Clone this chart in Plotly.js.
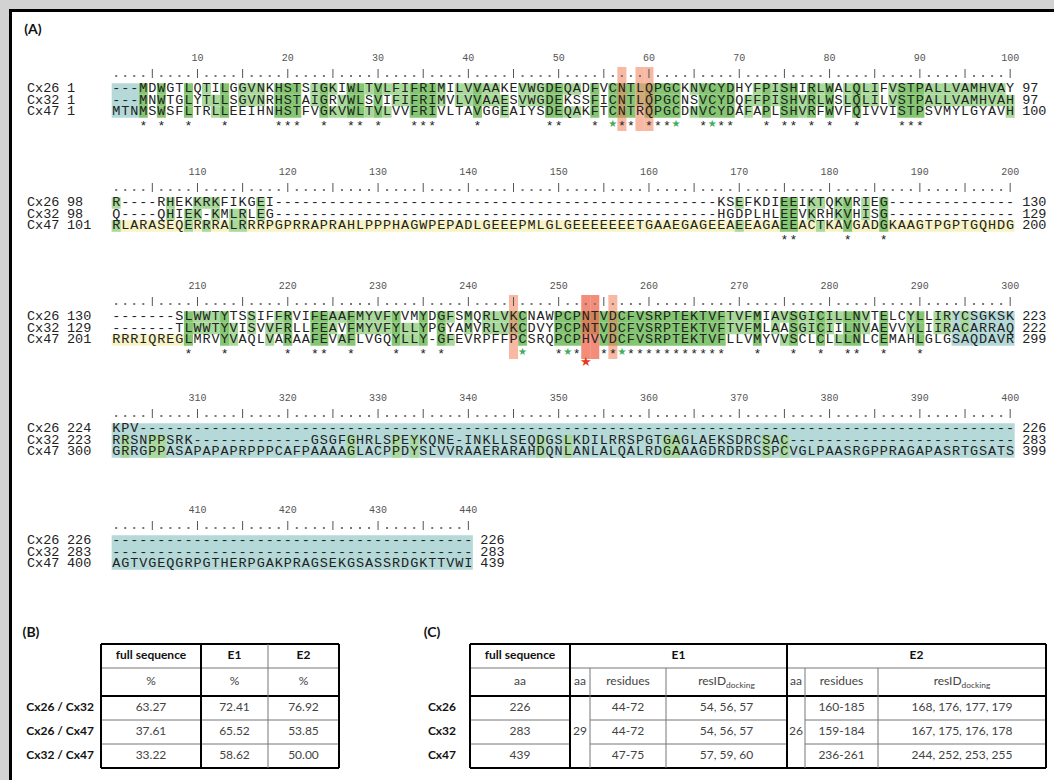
<!DOCTYPE html>
<html><head><meta charset="utf-8">
<script src="https://cdn.plot.ly/plotly-3.0.1.min.js"></script>
<style>html,body{margin:0;padding:0;background:#fff}#chart{width:1054px;height:780px}</style>
</head><body><div id="chart"></div>
<script>
// ================= DATA =================
const seqNames = ["Cx26", "Cx32", "Cx47"];
const blockFirstCol = [1, 101, 201, 301, 401];
const blockWidth = [100, 100, 100, 100, 40];

const cx26Blocks = [
  "---MDWGTLQTILGGVNKHSTSIGKIWLTVLFIFRIMILVVAAKEVWGDEQADFVCNTLQPGCKNVCYDHYFPISHIRLWALQLIFVSTPALLVAMHVAY",
  "R----RHEKKRKFIKGEI" + "-".repeat(49) + "KSEFKDIEEIKTQKVRIEG" + "-".repeat(14),
  "-------SLWWTYTSSIFFRVIFEAAFMYVFYVMYDGFSMQRLVKCNAWPCPNTVDCFVSRPTEKTVFTVFMIAVSGICILLNVTELCYLLIRYCSGKSK",
  "KPV" + "-".repeat(97),
  "-".repeat(40)
];
const cx32Blocks = [
  "---MNWTGLYTLLSGVNRHSTAIGRVWLSVIFIFRIMVLVVAAESVWGDEKSSFICNTLQPGCNSVCYDQFFPISHVRLWSLQLILVSTPALLVAMHVAH",
  "Q----QHIEK-KMLRLEG" + "-".repeat(49) + "HGDPLHLEEVKRHKVHISG" + "-".repeat(14),
  "-------TLWWTYVISVVFRLLFEAVFMYVFYLLYPGYAMVRLVKCDVYPCPNTVDCFVSRPTEKTVFTVFMLAASGICIILNVAEVVYLIIRACARRAQ",
  "RRSNPPSRK" + "-".repeat(13) + "GSGFGHRLSPEYKQNE" + "-" + "INKLLSEQDGSLKDILRRSPGTGAGLAEKSDRCSAC" + "-".repeat(25),
  "-".repeat(40)
];
const cx47Blocks = [
  "MTNMSWSFLTRLLEEIHNHSTFVGKVWLTVLVVFRIVLTAVGGEAIYSDEQAKFTCNTRQPGCDNVCYDAFAPLSHVRFWVFQIVVISTPSVMYLGYAVH",
  "RLARASEQERRRALRRRPGPRRAPRAHLPPPHAGWPEPADLGEEEPMLGLGEEEEEEETGAAEGAGEEAEEAGAEEACTKAVGADGKAAGTPGPTGQHDG",
  "RRRIQREGLMRVYVAQLVARAAFEVAFLVGQYLLY-GFEVRPFFPCSRQPCPHVVDCFVSRPTEKTVFLLVMYVVSCLCLLLNLCEMAHLGLGSAQDAVR",
  "GRRGPPASAPAPAPRPPPCAFPAAAAGLACPPDYSLVVRAAERARAHDQNLANLALQALRDGAAAGDRDRDSSPCVGLPAASRGPPRAGAPASRTGSATS",
  "AGTVGEQGRPGTHERPGAKPRAGSEKGSASSRDGKTTVWI"
];
const cx26Start = [1, 98, 130, 224, 226], cx26End = [97, 130, 223, 226, 226];
const cx32Start = [1, 98, 129, 223, 283], cx32End = [97, 129, 222, 283, 283];
const cx47Start = [1, 101, 201, 300, 400], cx47End = [100, 200, 299, 399, 439];

// region annotations (block-relative columns)
const tealRanges = [[[1, 3]], [], [[94, 100]], [[1, 100]], [[1, 40]]];
const yellowCx47 = [[[100, 100]], [[1, 100]], [[1, 8]], [], []];
const dockingOrange = [[57, 59, 60], [], [45, 56], [], []];
const dockingRed = [[], [], [53, 54], [], []];
const greenStarCols = [[56, 63, 67], [], [46, 51, 57], [], []];
const redStarCols = [[], [], [53], [], []];

// table (B)
const pairLabels = ["Cx26 / Cx32", "Cx26 / Cx47", "Cx32 / Cx47"];
const fullSeqPct = ["63.27", "37.61", "33.22"];
const e1Pct = ["72.41", "65.52", "58.62"];
const e2Pct = ["76.92", "53.85", "50.00"];
// table (C)
const cxLabels = ["Cx26", "Cx32", "Cx47"];
const fullLen = ["226", "283", "439"];
const e1Len = "29", e2Len = "26";
const e1Residues = ["44-72", "44-72", "47-75"];
const e1Docking = ["54, 56, 57", "54, 56, 57", "57, 59, 60"];
const e2Residues = ["160-185", "159-184", "236-261"];
const e2Docking = ["168, 176, 177, 179", "167, 175, 176, 178", "244, 252, 253, 255"];

// ================= GEOMETRY / STYLE =================
const X0 = 116.2, PITCH = 9.03;
const colX = c => X0 + (c - 1) * PITCH;
const rulerY = [58, 172, 286, 398, 510];
const ROW_OFF = [31, 42.5, 54], DOT_OFF = 16, STAR_OFF = 66, HALF_H = 5.75;
const MONO = "Liberation Mono, Courier New, monospace";
const SANS = "Lato, Open Sans, sans-serif";
const TEAL = "#b4d9d8", YELLOW = "#f7f3c4", GREEN3 = "#84c672", GREEN2 = "#a9d99b";

const seqs = [cx26Blocks, cx32Blocks, cx47Blocks];
const starts = [cx26Start, cx32Start, cx47Start];
const ends = [cx26End, cx32End, cx47End];

const shapes = [];
function rect(x0, x1, y0, y1, fill, layer) {
  shapes.push({type: "rect", xref: "x", yref: "y", x0, x1, y0, y1, fillcolor: fill, line: {width: 0}, layer: layer || "below"});
}
function seg(x0, y0, x1, y1, w, color) {
  shapes.push({type: "line", xref: "x", yref: "y", x0, y0, x1, y1, line: {width: w, color: color || "#000"}, layer: "above"});
}
// frame
shapes.push({type: "rect", xref: "x", yref: "y", x0: 10.5, x1: 1075, y0: 10.5, y1: 800, fillcolor: "#ffffff", line: {width: 3, color: "#000"}, layer: "below"});

const seqX = [], seqY = [], seqT = [];
const numX = [], numY = [], numT = [];
const dotX = [], dotY = [];
const barX = [], barY = [];
const starX = [], starY = [];
const gsX = [], gsY = [];
const rsX = [], rsY = [];
const labX = [], labY = [], labT = [];
const endX = [], endY = [], endT = [];

for (let b = 0; b < 5; b++) {
  const w = blockWidth[b], ry = rulerY[b];
  const rows = ROW_OFF.map(o => ry + o);
  tealRanges[b].forEach(([a, z]) => rect(colX(a) - PITCH / 2, colX(z) + PITCH / 2, rows[0] - HALF_H, rows[2] + HALF_H, TEAL));
  yellowCx47[b].forEach(([a, z]) => rect(colX(a) - PITCH / 2, colX(z) + PITCH / 2, rows[2] - HALF_H, rows[2] + HALF_H, YELLOW));
  const cls = [[], [], []];
  for (let c = 1; c <= w; c++) {
    const ch = [0, 1, 2].map(r => seqs[r][b][c - 1]);
    const all = ch[0] !== "-" && ch[0] === ch[1] && ch[1] === ch[2];
    for (let r = 0; r < 3; r++) {
      let k = 0;
      if (all) k = 2;
      else if (ch[r] !== "-" && [0, 1, 2].some(o => o !== r && ch[o] === ch[r])) k = 1;
      cls[r][c] = k;
    }
    if (all) {
      if (greenStarCols[b].includes(c)) { gsX.push(colX(c)); gsY.push(ry + STAR_OFF); }
      else { starX.push(colX(c)); starY.push(ry + STAR_OFF + 3); }
    }
  }
  for (let r = 0; r < 3; r++) {
    let c = 1;
    while (c <= w) {
      const k = cls[r][c];
      if (k === 0) { c++; continue; }
      let e = c;
      while (e + 1 <= w && cls[r][e + 1] === k) e++;
      rect(colX(c) - PITCH / 2, colX(e) + PITCH / 2, rows[r] - HALF_H, rows[r] + HALF_H, k === 2 ? GREEN3 : GREEN2);
      c = e + 1;
    }
  }
  dockingOrange[b].forEach(c => rect(colX(c) - PITCH / 2, colX(c) + PITCH / 2, ry + DOT_OFF - 7, ry + STAR_OFF + 7, "rgba(240,128,90,0.55)"));
  dockingRed[b].forEach(c => rect(colX(c) - PITCH / 2, colX(c) + PITCH / 2, ry + DOT_OFF - 7, ry + STAR_OFF + 7, "rgba(236,80,50,0.65)"));
  redStarCols[b].forEach(c => { rsX.push(colX(c)); rsY.push(ry + STAR_OFF + 11); });
  for (let r = 0; r < 3; r++) {
    for (let c = 1; c <= w; c++) { seqX.push(colX(c)); seqY.push(rows[r]); seqT.push(seqs[r][b][c - 1]); }
    labX.push(27); labY.push(rows[r]); labT.push(seqNames[r]);
    labX.push(67); labY.push(rows[r]); labT.push(String(starts[r][b]));
    endX.push(colX(w) + 12); endY.push(rows[r]); endT.push(String(ends[r][b]));
  }
  for (let c = 1; c <= w; c++) {
    if (c % 10 === 0) { numX.push(colX(c)); numY.push(ry); numT.push(String(blockFirstCol[b] + c - 1)); }
    if (c % 5 === 0) { barX.push(colX(c), colX(c), null); barY.push(ry + DOT_OFF - 5, ry + DOT_OFF + 4, null); }
    else { dotX.push(colX(c)); dotY.push(ry + DOT_OFF + 2); }
  }
}

const SEQ_FONT = {family: MONO, size: 13.5, color: "#222"};
const traces = [
  {type: "scatter", mode: "text", x: seqX, y: seqY, text: seqT, textposition: "middle center", textfont: SEQ_FONT, hoverinfo: "skip"},
  {type: "scatter", mode: "text", x: numX, y: numY, text: numT, textposition: "middle center", textfont: {family: MONO, size: 10, color: "#555"}, hoverinfo: "skip"},
  {type: "scatter", mode: "markers", x: dotX, y: dotY, marker: {size: 2, color: "#777", symbol: "square"}, hoverinfo: "skip"},
  {type: "scatter", mode: "lines", x: barX, y: barY, line: {width: 1, color: "#555"}, hoverinfo: "skip"},
  {type: "scatter", mode: "text", x: starX, y: starY, text: starX.map(() => "*"), textposition: "middle center", textfont: {family: MONO, size: 13, color: "#222"}, hoverinfo: "skip"},
  {type: "scatter", mode: "text", x: gsX, y: gsY, text: gsX.map(() => "★"), textposition: "middle center", textfont: {family: "DejaVu Sans", size: 10, color: "#3fae5c"}, hoverinfo: "skip"},
  {type: "scatter", mode: "text", x: rsX, y: rsY, text: rsX.map(() => "★"), textposition: "middle center", textfont: {family: "DejaVu Sans", size: 13, color: "#e8381c"}, hoverinfo: "skip"},
  {type: "scatter", mode: "text", x: labX, y: labY, text: labT, textposition: "middle right", textfont: SEQ_FONT, hoverinfo: "skip"},
  {type: "scatter", mode: "text", x: endX, y: endY, text: endT, textposition: "middle right", textfont: SEQ_FONT, hoverinfo: "skip"}
];

// ================= TABLES =================
const tX = [], tY = [], tT = [];
const hX = [], hY = [], hT = [];
const rlX = [], rlY = [], rlT = [];
const panelX = [33, 31, 432], panelY = [30, 633, 633], panelT = ["(A)", "(B)", "(C)"];

const bCols = [101, 201, 268, 339];
const bRows = [644, 668, 696, 720, 744, 768];
const mid = (a, b) => (a + b) / 2;
["full sequence", "E1", "E2"].forEach((t, i) => { hX.push(mid(bCols[i], bCols[i + 1])); hY.push(mid(bRows[0], bRows[1])); hT.push(t); });
[0, 1, 2].forEach(i => { tX.push(mid(bCols[i], bCols[i + 1])); tY.push(mid(bRows[1], bRows[2])); tT.push("%"); });
pairLabels.forEach((lab, i) => {
  const y = mid(bRows[2 + i], bRows[3 + i]);
  rlX.push(94); rlY.push(y); rlT.push(lab);
  [fullSeqPct[i], e1Pct[i], e2Pct[i]].forEach((v, j) => { tX.push(mid(bCols[j], bCols[j + 1])); tY.push(y); tT.push(v); });
});
seg(bCols[0], bRows[0], bCols[3], bRows[0], 2);
seg(bCols[0], bRows[5], bCols[3], bRows[5], 2);
seg(bCols[0], bRows[2], bCols[3], bRows[2], 2);
seg(bCols[0], bRows[1], bCols[3], bRows[1], 1, "#777");
seg(bCols[0], bRows[3], bCols[3], bRows[3], 1, "#777");
seg(bCols[0], bRows[4], bCols[3], bRows[4], 1, "#777");
seg(bCols[0], bRows[0], bCols[0], bRows[5], 2);
seg(bCols[3], bRows[0], bCols[3], bRows[5], 2);
seg(bCols[1], bRows[0], bCols[1], bRows[5], 2);
seg(bCols[2], bRows[0], bCols[2], bRows[5], 1, "#777");

const cCols = [470, 570, 590, 666, 787, 805, 878, 1046];
const cRows = [644, 668, 696, 720, 744, 768];
hX.push(mid(cCols[0], cCols[1]), mid(cCols[1], cCols[4]), mid(cCols[4], cCols[7]));
hY.push(656, 656, 656); hT.push("full sequence", "E1", "E2");
const sub = ["aa", "aa", "residues", "resID<sub>docking</sub>", "aa", "residues", "resID<sub>docking</sub>"];
sub.forEach((t, i) => { tX.push(mid(cCols[i], cCols[i + 1])); tY.push(mid(cRows[1], cRows[2])); tT.push(t); });
cxLabels.forEach((lab, i) => {
  const y = mid(cRows[2 + i], cRows[3 + i]);
  rlX.push(456); rlY.push(y); rlT.push(lab);
  const vals = [fullLen[i], null, e1Residues[i], e1Docking[i], null, e2Residues[i], e2Docking[i]];
  vals.forEach((v, j) => { if (v !== null) { tX.push(mid(cCols[j], cCols[j + 1])); tY.push(y); tT.push(v); } });
});
tX.push(mid(cCols[1], cCols[2]), mid(cCols[4], cCols[5])); tY.push(mid(cRows[2], cRows[5]), mid(cRows[2], cRows[5])); tT.push(e1Len, e2Len);
seg(cCols[0], cRows[0], cCols[7], cRows[0], 2);
seg(cCols[0], cRows[5], cCols[7], cRows[5], 2);
seg(cCols[0], cRows[2], cCols[7], cRows[2], 2);
seg(cCols[0], cRows[1], cCols[7], cRows[1], 1, "#777");
[3, 4].forEach(k => {
  seg(cCols[0], cRows[k], cCols[1], cRows[k], 1, "#777");
  seg(cCols[2], cRows[k], cCols[4], cRows[k], 1, "#777");
  seg(cCols[5], cRows[k], cCols[7], cRows[k], 1, "#777");
});
[0, 1, 4, 7].forEach(k => seg(cCols[k], cRows[0], cCols[k], cRows[5], 2));
[2, 3, 5, 6].forEach(k => seg(cCols[k], cRows[1], cCols[k], cRows[5], 1, "#777"));

traces.push(
  {type: "scatter", mode: "text", x: tX, y: tY, text: tT, textposition: "middle center", textfont: {family: SANS, size: 12, color: "#444"}, hoverinfo: "skip"},
  {type: "scatter", mode: "text", x: hX, y: hY, text: hT.map(t => "<b>" + t + "</b>"), textposition: "middle center", textfont: {family: SANS, size: 12, color: "#111"}, hoverinfo: "skip"},
  {type: "scatter", mode: "text", x: rlX, y: rlY, text: rlT.map(t => "<b>" + t + "</b>"), textposition: "middle left", textfont: {family: SANS, size: 12, color: "#111"}, hoverinfo: "skip"},
  {type: "scatter", mode: "text", x: panelX, y: panelY, text: panelT.map(t => "<b>" + t + "</b>"), textposition: "middle center", textfont: {family: SANS, size: 14, color: "#111"}, hoverinfo: "skip"}
);

const layout = {
  width: 1054, height: 780,
  margin: {l: 0, r: 0, t: 0, b: 0, pad: 0},
  paper_bgcolor: "#d2d2d2", plot_bgcolor: "rgba(0,0,0,0)",
  showlegend: false,
  xaxis: {range: [0, 1054], visible: false, fixedrange: true},
  yaxis: {range: [780, 0], visible: false, fixedrange: true},
  shapes: shapes
};
Plotly.newPlot("chart", traces, layout, {displayModeBar: false, staticPlot: true});
</script>
</body></html>
